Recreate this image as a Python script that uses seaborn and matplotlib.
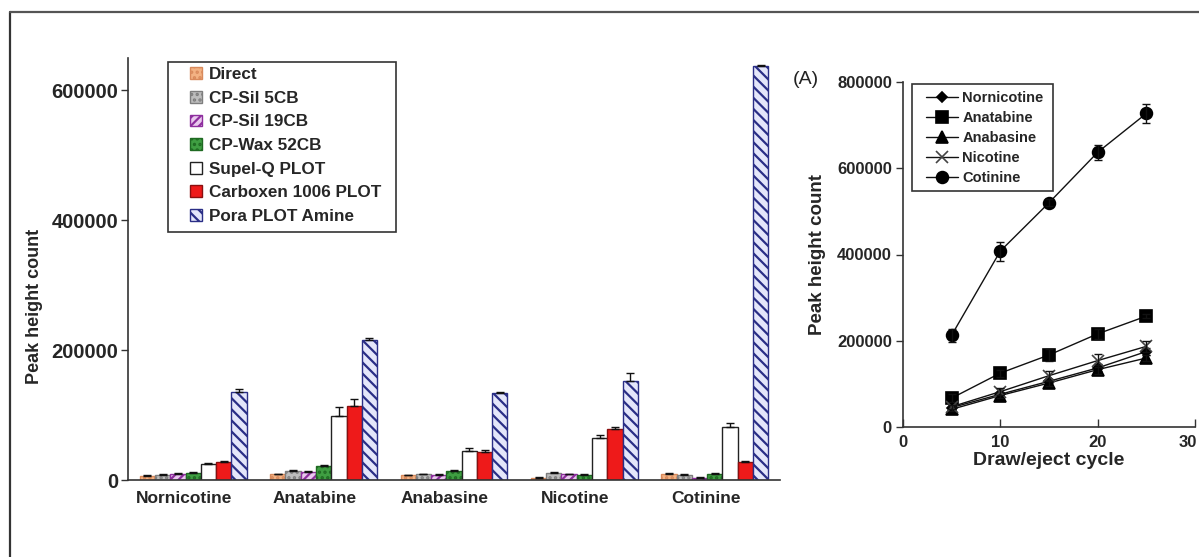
import numpy as np
import pandas as pd
import matplotlib
matplotlib.use("Agg")
import matplotlib.pyplot as plt
import matplotlib.transforms as mtransforms
from matplotlib.lines import Line2D
from matplotlib.patches import Rectangle
import seaborn as sns

# ---- data: column comparison (bar panel) ----
compounds = ["Nornicotine", "Anatabine", "Anabasine", "Nicotine", "Cotinine"]
columns = ["Direct", "CP-Sil 5CB", "CP-Sil 19CB", "CP-Wax 52CB",
           "Supel-Q PLOT", "Carboxen 1006 PLOT", "Pora PLOT Amine"]

direct     = [6500, 9000, 7000, 3500, 10000]
cpsil5     = [7500, 14000, 8500, 11500, 8000]
cpsil19    = [10000, 13000, 8000, 9000, 3500]
cpwax52    = [11000, 22000, 14000, 8000, 10000]
supelq     = [24000, 98000, 45000, 64500, 82000]
carboxen   = [27000, 114000, 43500, 79000, 27000]
pora       = [135000, 215000, 134000, 153000, 637000]

direct_err   = [800, 1000, 800, 500, 1000]
cpsil5_err   = [1000, 1000, 800, 1500, 800]
cpsil19_err  = [1000, 1000, 800, 1000, 500]
cpwax52_err  = [1000, 1500, 1000, 800, 1000]
supelq_err   = [2000, 14000, 5000, 5000, 6000]
carboxen_err = [2000, 11000, 2000, 2000, 1500]
pora_err     = [5000, 3000, 2000, 11000, 2000]

# ---- data: draw/eject cycles (line panel) ----
cycles = [5, 10, 15, 20, 25]
nornicotine = [45000, 76000, 106000, 137000, 175000]
anatabine   = [67000, 125000, 167000, 216000, 257000]
anabasine   = [41000, 73000, 102000, 133000, 160000]
nicotine    = [47000, 82000, 119000, 154000, 187000]
cotinine    = [213000, 408000, 520000, 637000, 727000]

nornicotine_err = [4000, 5000, 5000, 8000, 8000]
anatabine_err   = [10000, 8000, 15000, 12000, 5000]
anabasine_err   = [5000, 6000, 8000, 10000, 8000]
nicotine_err    = [5000, 8000, 12000, 15000, 12000]
cotinine_err    = [15000, 22000, 8000, 18000, 22000]

sns.set_theme(style="white")
plt.rcParams["font.family"] = ["Liberation Sans", "DejaVu Sans"]
plt.rcParams["font.weight"] = "bold"
plt.rcParams["axes.labelweight"] = "bold"
plt.rcParams["hatch.linewidth"] = 1.6

fig = plt.figure(figsize=(11.99, 5.57), dpi=100)
W, H = 1199, 557


def px_axes(x0, y_top, x1, y_bot):
    return fig.add_axes([x0 / W, (H - y_bot) / H, (x1 - x0) / W, (y_bot - y_top) / H])


def px_shift(dx, dy=0):
    return mtransforms.ScaledTranslation(dx / 100, dy / 100, fig.dpi_scale_trans)


def px_frame(x0, y0, x1, y1):
    # legend box drawn in figure pixels
    r = Rectangle((x0 / W, 1 - y1 / H), (x1 - x0) / W, (y1 - y0) / H,
                  transform=fig.transFigure, fill=False, edgecolor="#333333",
                  linewidth=1.2, zorder=10)
    fig.add_artist(r)


# ================= bar panel =================
ax = px_axes(128, 57.5, 780, 480)

values = [direct, cpsil5, cpsil19, cpwax52, supelq, carboxen, pora]
errors = [direct_err, cpsil5_err, cpsil19_err, cpwax52_err, supelq_err, carboxen_err, pora_err]
rows = []
for col, vals in zip(columns, values):
    for comp, v in zip(compounds, vals):
        rows.append({"compound": comp, "column": col, "count": v})
df = pd.DataFrame(rows)

styles = {
    "Direct":             dict(face="#F3B283", edge="#D98A5C", hatch="..."),
    "CP-Sil 5CB":         dict(face="#BDBDBD", edge="#7E7E7E", hatch="..."),
    "CP-Sil 19CB":        dict(face="#E9C9EE", edge="#8E2E9E", hatch="////"),
    "CP-Wax 52CB":        dict(face="#3F9E42", edge="#1F6A22", hatch="..."),
    "Supel-Q PLOT":       dict(face="#FFFFFF", edge="#222222", hatch=None),
    "Carboxen 1006 PLOT": dict(face="#EE1A1A", edge="#8A0F0F", hatch=None),
    "Pora PLOT Amine":    dict(face="#E4E6FA", edge="#2A2E86", hatch="\\\\\\"),
}

sns.barplot(data=df, x="compound", y="count", hue="column",
            order=compounds, hue_order=columns,
            palette=[styles[c]["face"] for c in columns],
            width=0.82, errorbar=None, legend=False, ax=ax)

for col, cont, errs in zip(columns, ax.containers, errors):
    st = styles[col]
    for p in cont.patches:
        p.set_facecolor(st["face"])
        p.set_edgecolor(st["edge"])
        p.set_linewidth(1.0)
        if st["hatch"]:
            p.set_hatch(st["hatch"])
    xs = [p.get_x() + p.get_width() / 2 for p in cont.patches]
    ys = [p.get_height() for p in cont.patches]
    ax.errorbar(xs, ys, yerr=[np.zeros(len(errs)), errs], fmt="none",
                ecolor="#111111", elinewidth=1.0, capsize=3, capthick=1.0, zorder=5)

ax.set_xlim(-0.5, 4.5)
ax.set_ylim(0, 650000)
ax.set_yticks([0, 200000, 400000, 600000])
ax.set_yticklabels(["0", "200000", "400000", "600000"])
ax.set_xticks(range(len(compounds)))
ax.set_xticklabels(compounds)
ax.set_xticks(np.arange(0.5, 5.0, 1.0), minor=True)
ax.tick_params(axis="x", which="major", length=0, labelsize=12.5, pad=8)
ax.tick_params(axis="x", which="minor", direction="in", length=6, width=1.2, color="#333333")
ax.tick_params(axis="y", direction="out", length=5, width=1, color="#333333",
               labelsize=14.5, pad=2, left=True)
for lbl in ax.get_xticklabels():
    lbl.set_transform(lbl.get_transform() + px_shift(-9))
ax.set_xlabel("")
ax.set_ylabel("Peak height count", fontsize=13)
ax.yaxis.set_label_coords(-0.131, 0.41)
for s in ["top", "right"]:
    ax.spines[s].set_visible(False)
for s in ["left", "bottom"]:
    ax.spines[s].set_color("#333333")
    ax.spines[s].set_linewidth(1.2)

ax.legend(handles=list(ax.containers), labels=columns, loc="upper left",
          bbox_to_anchor=((187 - 128) / 652, (480 - 64) / 422.5), borderaxespad=0,
          frameon=False, prop={"size": 12.3, "weight": "bold"},
          handlelength=0.7, handleheight=0.7, handletextpad=0.4,
          labelspacing=0.5, borderpad=0.2)
px_frame(168, 62, 396, 232)

# ================= cycle panel =================
ax2 = px_axes(903, 82, 1195, 427)

series = [
    ("Nornicotine", nornicotine, nornicotine_err, "D", 5, "#000000"),
    ("Anatabine", anatabine, anatabine_err, "s", 8, "#000000"),
    ("Anabasine", anabasine, anabasine_err, "^", 8, "#000000"),
    ("Nicotine", nicotine, nicotine_err, "x", 8, "#444444"),
    ("Cotinine", cotinine, cotinine_err, "o", 8.5, "#000000"),
]
for name, vals, errs, mk, ms, c in series:
    sns.lineplot(x=cycles, y=vals, ax=ax2, color="#111111", linewidth=1.0,
                 marker=mk, markersize=ms, markeredgecolor=c, markerfacecolor=c,
                 markeredgewidth=1.2, label=name)
    ax2.errorbar(cycles, vals, yerr=errs, fmt="none", ecolor="#111111",
                 elinewidth=1.0, capsize=3, capthick=1.0)

ax2.set_xlim(0, 30)
ax2.set_ylim(0, 800000)
ax2.set_xticks([0, 10, 20, 30])
ax2.set_yticks([0, 200000, 400000, 600000, 800000])
ax2.set_yticklabels(["0", "200000", "400000", "600000", "800000"])
ax2.tick_params(axis="x", direction="in", length=6, width=1, color="#333333",
                labelsize=12, pad=6, bottom=True)
ax2.tick_params(axis="y", direction="out", length=5, width=1, color="#333333",
                labelsize=12, pad=3, left=True)
xl = ax2.get_xticklabels()
xl[-1].set_transform(xl[-1].get_transform() + px_shift(-7))
ax2.set_xlabel("Draw/eject cycle", fontsize=14, labelpad=1)
ax2.set_ylabel("Peak height count", fontsize=13.5, labelpad=8)
for s in ["top", "right"]:
    ax2.spines[s].set_visible(False)
for s in ["left", "bottom"]:
    ax2.spines[s].set_color("#333333")
    ax2.spines[s].set_linewidth(1.2)

ax2.legend(loc="upper left", bbox_to_anchor=((923 - 903) / 292, (427 - 88) / 345),
           borderaxespad=0, frameon=False, prop={"size": 10.5, "weight": "bold"},
           handlelength=2.2, handletextpad=0.3, labelspacing=0.42, borderpad=0.2)
px_frame(912, 84, 1053, 191)

fig.text(793 / W, 1 - 80 / H, "(A)", fontsize=14, fontweight="normal",
         ha="left", va="center", color="#222222")

# outer frame lines
fig.add_artist(Line2D([10 / W, 10 / W], [0, 1 - 12 / H], transform=fig.transFigure,
                      color="#333333", linewidth=1.6))
fig.add_artist(Line2D([10 / W, 1], [1 - 12 / H, 1 - 12 / H], transform=fig.transFigure,
                      color="#555555", linewidth=1.6))

fig.savefig("out.png", dpi=100, facecolor="white")
